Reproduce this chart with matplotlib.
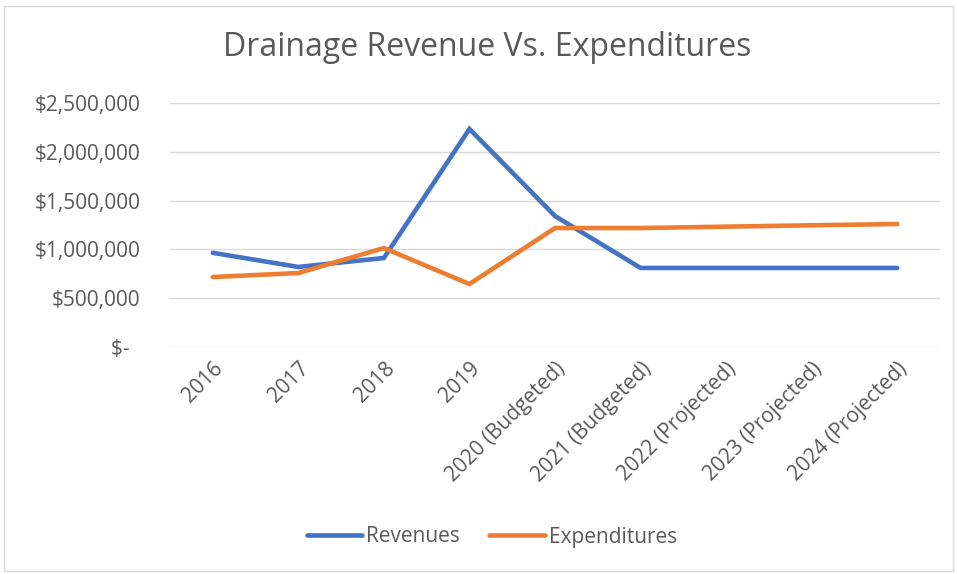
import matplotlib
matplotlib.use("Agg")
import matplotlib.pyplot as plt
from matplotlib.patches import Rectangle
from matplotlib.ticker import FuncFormatter

categories = ["2016", "2017", "2018", "2019", "2020 (Budgeted)", "2021 (Budgeted)",
              "2022 (Projected)", "2023 (Projected)", "2024 (Projected)"]
revenues = [965000, 820000, 912000, 2234000, 1342000, 810000, 810000, 810000, 810000]
expenditures = [717000, 758000, 1014000, 645000, 1219000, 1219000, 1233000, 1247000, 1260000]
yticks = [0, 500000, 1000000, 1500000, 2000000, 2500000]

plt.rcParams['font.family'] = ['Open Sans', 'DejaVu Sans']
grey = "#595959"

fig = plt.figure(figsize=(9.57, 5.74), dpi=100)
ax = fig.add_axes([170/957, 1-347/574, 770/957, 244/574])

x = range(len(categories))
ax.plot(x, revenues, color="#4472C4", lw=3.3, solid_capstyle="round", solid_joinstyle="miter", label="Revenues")
ax.plot(x, expenditures, color="#ED7D31", lw=3.3, solid_capstyle="round", solid_joinstyle="miter", label="Expenditures")

ax.set_xlim(-0.5, len(categories) - 0.5)
ax.set_ylim(0, 2500000)
ax.set_yticks(yticks)
ax.yaxis.set_major_formatter(FuncFormatter(lambda v, p: "$-  " if v == 0 else "${:,.0f}".format(v)))
ax.set_xticks(list(x))
ax.set_xticklabels(categories, rotation=45, ha="right", rotation_mode="anchor")
ax.tick_params(axis="both", length=0, labelsize=15, labelcolor=grey)
ax.tick_params(axis="y", pad=21)
ax.tick_params(axis="x", pad=8)
ax.grid(axis="y", color="#d9d9d9", lw=1)
ax.set_axisbelow(True)
for s in ax.spines.values():
    s.set_visible(False)

fig.text(487/957, 1-48/574, "Drainage Revenue Vs. Expenditures", ha="center", va="center",
         fontsize=23, color=grey)

fig.legend(loc="center", bbox_to_anchor=(492/957, 1-537/574), ncol=2, frameon=False,
           fontsize=15, labelcolor=grey, handlelength=2.65, columnspacing=1.4, handletextpad=0.2)

fig.patches.append(Rectangle((4/957, 0.005), 1 - 8/957, 1 - 9/574, transform=fig.transFigure,
                             fill=False, edgecolor="#d9d9d9", lw=1))

fig.savefig("out.png", dpi=100)
